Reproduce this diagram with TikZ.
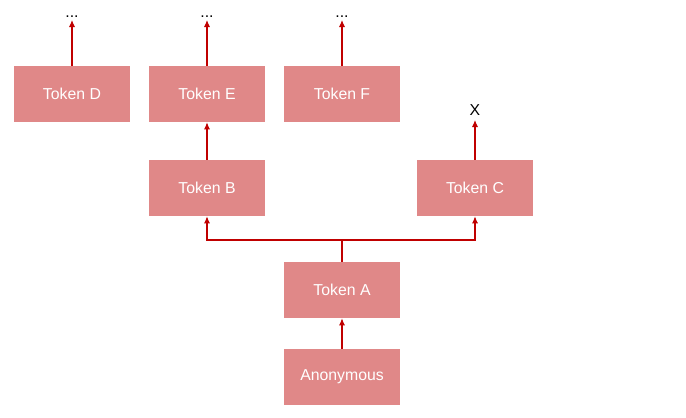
\documentclass[tikz,border=0pt]{standalone}
\usepackage{fontspec}
\setmainfont{Liberation Sans}
\usetikzlibrary{arrows.meta,positioning}
\definecolor{tokfill}{RGB}{224,136,136}
\definecolor{tokline}{RGB}{192,0,0}
\tikzset{
  token/.style={fill=tokfill,text=white,minimum width=2.32cm,minimum height=1.12cm,inner sep=0pt,font=\fontsize{9}{11}\selectfont},
  link/.style={tokline,line width=0.6pt,-{Latex[length=4pt,width=3.5pt]}},
  more/.style={font=\fontsize{9}{11}\selectfont}
}
\begin{document}
\begin{tikzpicture}[x=0.02cm,y=-0.02cm]
\useasboundingbox (0,0) rectangle (686,418);
% ==========================================
\node[token] (anon) at (342,377) {Anonymous};
\node[token] (a) at (342,290) {Token A};
\node[token] (b) at (207,188) {Token B};
\node[token] (c) at (475,188) {Token C};
\node[token] (d) at (72,94) {Token D};
\node[token] (e) at (207,94) {Token E};
\node[token] (f) at (342,94) {Token F};
%
\coordinate (split) at (342,240);
\coordinate (dend) at (72,20);
\coordinate (eend) at (207,20);
\coordinate (fend) at (342,20);
\coordinate (cend) at (475,120);
\node[more,above=-2pt of dend] (dmore) {...};
\node[more,above=-2pt of eend] (emore) {...};
\node[more,above=-2pt of fend] (fmore) {...};
\node[more,above=-1pt of cend] (cx) {X};
%
\draw[link] (anon) -- (a);
\draw[link] (a.north) -- (split) -| (b.south);
\draw[link] (split) -| (c.south);
\draw[link] (b) -- (e);
\draw[link] (d.north) -- (dend);
\draw[link] (e.north) -- (eend);
\draw[link] (f.north) -- (fend);
\draw[link] (c.north) -- (cend);
% =============================================
\end{tikzpicture}
\end{document}
